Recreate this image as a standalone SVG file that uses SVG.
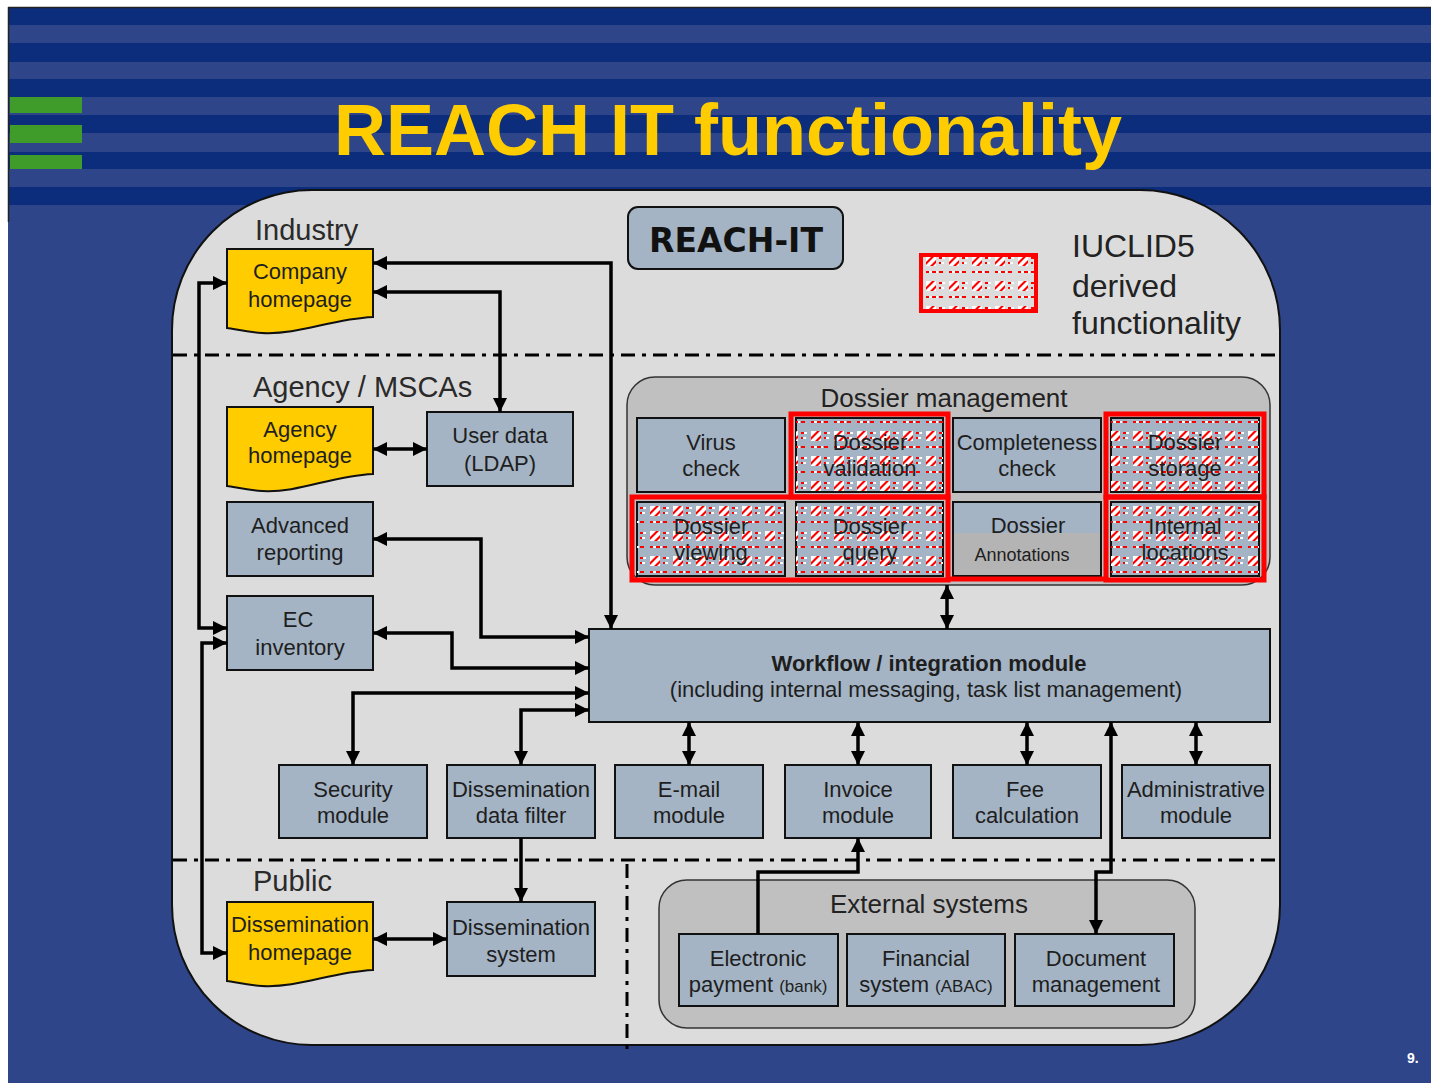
<svg xmlns="http://www.w3.org/2000/svg" width="1431" height="1083" viewBox="0 0 1431 1083">
<style>
text{font-family:"Liberation Sans",Arial,sans-serif;fill:#1e1e1e}
.lbl{font-size:22px;text-anchor:middle}
.sec{font-size:29px;fill:#2a2a2a}
.grp{font-size:26px;text-anchor:middle;fill:#222}
.box{fill:#a4b4c4;stroke:#111;stroke-width:2}
.doc{fill:#ffcc00;stroke:#111;stroke-width:2}
.red{fill:none;stroke:#ff0000;stroke-width:5}
.dd{stroke:#000;stroke-width:3;stroke-dasharray:14 7 4 7;fill:none}
.con path{fill:none;stroke:#000;stroke-width:3.5}
.both{marker-start:url(#ah);marker-end:url(#ah)}
.end{marker-end:url(#ah)}
</style>
<defs>
<marker id="ah" viewBox="0 0 14 14" markerWidth="14" markerHeight="14" refX="14" refY="7" orient="auto-start-reverse" markerUnits="userSpaceOnUse">
<path d="M0,0 L14,7 L0,14 Z" fill="#000"/>
</marker>
<pattern id="hatch" patternUnits="userSpaceOnUse" width="23" height="25" x="4" y="4">
<rect x="2" y="2" width="10" height="10" fill="#fff"/>
<polygon points="2,8 8,2 11,2 2,11" fill="#f00"/>
<polygon points="6,12 12,6 12,9 9,12" fill="#f00"/>
<path d="M15,4h3M15,9h2M2,18h3M8,18h4M15,18h4" stroke="#f00" stroke-width="2"/>
<path d="M18,4h3M17,9h3M5,18h3M12,18h2" stroke="#fff" stroke-width="2"/>
</pattern>
</defs>

<!-- slide background -->
<rect x="0" y="0" width="1431" height="1083" fill="#ffffff"/>
<rect x="8" y="7" width="1423" height="1076" fill="#2e4589"/>
<g fill="#0b2d7b">
<rect x="8" y="8" width="1423" height="17"/>
<rect x="8" y="43" width="1423" height="19"/>
<rect x="8" y="79" width="1423" height="18"/>
<rect x="8" y="115" width="1423" height="18"/>
<rect x="8" y="152" width="1423" height="17"/>
<rect x="8" y="187" width="1423" height="18"/>
</g>
<line x1="8" y1="7.5" x2="1431" y2="7.5" stroke="#222" stroke-width="1.5"/>
<line x1="8.5" y1="7" x2="8.5" y2="222" stroke="#222" stroke-width="1.5"/>
<g fill="#3f9b2a">
<rect x="10" y="97" width="72" height="16"/>
<rect x="10" y="125" width="72" height="18"/>
<rect x="10" y="155" width="72" height="14"/>
</g>
<text x="728" y="155" text-anchor="middle" style="font-size:72px;font-weight:bold;fill:#ffcc00">REACH IT functionality</text>
<text x="1407" y="1063" style="font-size:14px;font-weight:bold;fill:#fff">9.</text>

<!-- main panel -->
<path d="M312,190 H1140 A140,140 0 0 1 1280,330 V905 A140,140 0 0 1 1140,1045 H312 A140,140 0 0 1 172,905 V330 A140,140 0 0 1 312,190 Z" fill="#dcdcdc" stroke="#111" stroke-width="2"/>
<path class="dd" d="M173,355 H1279"/>
<path class="dd" d="M173,860 H1279"/>
<path class="dd" d="M627,864 V1050"/>
<text class="sec" x="255" y="240">Industry</text>
<text class="sec" x="253" y="397">Agency / MSCAs</text>
<text class="sec" x="253" y="891">Public</text>

<g id="reach-it">
<rect x="628" y="207" width="215" height="62" rx="10" class="box"/>
<text x="736" y="252" text-anchor="middle" style="font-family:'DejaVu Sans',Verdana,sans-serif;font-size:33px;font-weight:bold;fill:#111">REACH-IT</text>
</g>

<g id="legend">
<rect x="921" y="255" width="115" height="56" fill="#dcdcdc"/>
<rect x="921" y="255" width="115" height="56" fill="url(#hatch)"/>
<rect x="921" y="255" width="115" height="56" fill="none" stroke="#f00" stroke-width="4"/>
<text x="1072" y="257" style="font-size:32px;fill:#222">IUCLID5</text>
<text x="1072" y="297" style="font-size:32px;fill:#222">derived</text>
<text x="1072" y="334" style="font-size:32px;fill:#222">functionality</text>
</g>

<!-- dossier management -->
<g id="dossier-management">
<rect x="627" y="377" width="643" height="208" rx="28" fill="#c0c0c0" stroke="#333" stroke-width="1.5"/>
<text class="grp" x="944" y="407">Dossier management</text>
</g>
<g id="virus-check">
<rect x="637" y="418" width="148" height="74" class="box"/>
<text class="lbl" x="711" y="450">Virus</text><text class="lbl" x="711" y="476">check</text>
</g>
<g id="dossier-validation">
<rect x="796" y="418" width="147" height="74" class="box"/>
<rect x="796" y="418" width="147" height="74" fill="url(#hatch)"/>
<text class="lbl" x="870" y="450">Dossier</text><text class="lbl" x="870" y="476">validation</text>
</g>
<g id="completeness-check">
<rect x="953" y="418" width="148" height="74" class="box"/>
<text class="lbl" x="1027" y="450">Completeness</text><text class="lbl" x="1027" y="476">check</text>
</g>
<g id="dossier-storage">
<rect x="1111" y="418" width="148" height="74" class="box"/>
<rect x="1111" y="418" width="148" height="74" fill="url(#hatch)"/>
<text class="lbl" x="1185" y="450">Dossier</text><text class="lbl" x="1185" y="476">storage</text>
</g>
<g id="dossier-viewing">
<rect x="637" y="502" width="148" height="74" class="box"/>
<rect x="637" y="502" width="148" height="74" fill="url(#hatch)"/>
<text class="lbl" x="711" y="534">Dossier</text><text class="lbl" x="711" y="560">viewing</text>
</g>
<g id="dossier-query">
<rect x="796" y="502" width="147" height="74" class="box"/>
<rect x="796" y="502" width="147" height="74" fill="url(#hatch)"/>
<text class="lbl" x="870" y="534">Dossier</text><text class="lbl" x="870" y="560">query</text>
</g>
<g id="dossier-annotations">
<rect x="953" y="502" width="148" height="74" class="box"/>
<rect x="954" y="533" width="146" height="42" fill="#b4b4b4"/>
<text class="lbl" x="1028" y="533">Dossier</text>
<text x="1022" y="561" text-anchor="middle" style="font-size:18px">Annotations</text>
</g>
<g id="internal-locations">
<rect x="1111" y="502" width="148" height="74" class="box"/>
<rect x="1111" y="502" width="148" height="74" fill="url(#hatch)"/>
<text class="lbl" x="1185" y="534">Internal</text><text class="lbl" x="1185" y="560">locations</text>
</g>
<g id="iuclid-outline">
<rect x="791" y="414" width="157" height="83" class="red"/>
<rect x="1106" y="414" width="158" height="83" class="red"/>
<rect x="632" y="497" width="316" height="83" class="red"/>
<rect x="1106" y="497" width="158" height="83" class="red"/>
<line x1="948" y1="579" x2="1106" y2="579" stroke="#f00" stroke-width="5"/>
</g>

<!-- left side nodes -->
<g id="company-homepage">
<path class="doc" d="M227,249 H373 V317 C330,319 300,335 262,333 C247,332 235,329 227,328 Z"/>
<text class="lbl" x="300" y="279">Company</text><text class="lbl" x="300" y="307">homepage</text>
</g>
<g id="agency-homepage">
<path class="doc" d="M227,407 H373 V474 C330,476 300,493 262,491 C247,490 235,487 227,486 Z"/>
<text class="lbl" x="300" y="437">Agency</text><text class="lbl" x="300" y="463">homepage</text>
</g>
<g id="user-data">
<rect x="427" y="412" width="146" height="74" class="box"/>
<text class="lbl" x="500" y="443">User data</text><text class="lbl" x="500" y="471">(LDAP)</text>
</g>
<g id="advanced-reporting">
<rect x="227" y="502" width="146" height="74" class="box"/>
<text class="lbl" x="300" y="533">Advanced</text><text class="lbl" x="300" y="560">reporting</text>
</g>
<g id="ec-inventory">
<rect x="227" y="596" width="146" height="74" class="box"/>
<text class="lbl" x="298" y="627">EC</text><text class="lbl" x="300" y="655">inventory</text>
</g>
<g id="workflow">
<rect x="589" y="629" width="681" height="93" class="box"/>
<text x="929" y="671" text-anchor="middle" style="font-size:22px;font-weight:bold">Workflow / integration module</text>
<text class="lbl" x="926" y="697">(including internal messaging, task list management)</text>
</g>
<g id="security-module">
<rect x="279" y="765" width="148" height="73" class="box"/>
<text class="lbl" x="353" y="797">Security</text><text class="lbl" x="353" y="823">module</text>
</g>
<g id="dissemination-data-filter">
<rect x="447" y="765" width="148" height="73" class="box"/>
<text class="lbl" x="521" y="797">Dissemination</text><text class="lbl" x="521" y="823">data filter</text>
</g>
<g id="email-module">
<rect x="615" y="765" width="148" height="73" class="box"/>
<text class="lbl" x="689" y="797">E-mail</text><text class="lbl" x="689" y="823">module</text>
</g>
<g id="invoice-module">
<rect x="785" y="765" width="146" height="73" class="box"/>
<text class="lbl" x="858" y="797">Invoice</text><text class="lbl" x="858" y="823">module</text>
</g>
<g id="fee-calculation">
<rect x="953" y="765" width="148" height="73" class="box"/>
<text class="lbl" x="1025" y="797">Fee</text><text class="lbl" x="1027" y="823">calculation</text>
</g>
<g id="administrative-module">
<rect x="1122" y="765" width="148" height="73" class="box"/>
<text class="lbl" x="1196" y="797">Administrative</text><text class="lbl" x="1196" y="823">module</text>
</g>
<g id="dissemination-homepage">
<path class="doc" d="M227,902 H373 V970 C330,972 300,988 262,986 C247,985 235,982 227,981 Z"/>
<text class="lbl" x="300" y="932">Dissemination</text><text class="lbl" x="300" y="960">homepage</text>
</g>
<g id="dissemination-system">
<rect x="447" y="902" width="148" height="74" class="box"/>
<text class="lbl" x="521" y="935">Dissemination</text><text class="lbl" x="521" y="962">system</text>
</g>

<!-- external systems -->
<g id="external-systems">
<rect x="659" y="880" width="536" height="148" rx="28" fill="#c0c0c0" stroke="#333" stroke-width="1.5"/>
<text class="grp" x="929" y="913">External systems</text>
</g>
<g id="electronic-payment">
<rect x="679" y="934" width="159" height="72" class="box"/>
<text class="lbl" x="758" y="966">Electronic</text>
<text x="758" y="992" text-anchor="middle" style="font-size:22px">payment <tspan style="font-size:17px">(bank)</tspan></text>
</g>
<g id="financial-system">
<rect x="847" y="934" width="158" height="72" class="box"/>
<text class="lbl" x="926" y="966">Financial</text>
<text x="926" y="992" text-anchor="middle" style="font-size:22px">system <tspan style="font-size:17px">(ABAC)</tspan></text>
</g>
<g id="document-management">
<rect x="1015" y="934" width="159" height="72" class="box"/>
<text class="lbl" x="1096" y="966">Document</text><text class="lbl" x="1096" y="992">management</text>
</g>

<!-- connectors -->
<g id="connectors" class="con">
<path class="both" d="M611,629 V263 H373"/>
<path class="both" d="M500,412 V292 H373"/>
<path class="both" d="M373,449 H427"/>
<path class="both" d="M373,539 H481 V637 H589"/>
<path class="both" d="M373,633 H452 V668 H589"/>
<path class="both" d="M353,765 V693 H589"/>
<path class="both" d="M521,765 V710 H589"/>
<path class="both" d="M227,283 H199 V628 H227"/>
<path class="both" d="M227,643 H202 V953 H227"/>
<path class="both" d="M947,585 V629"/>
<path class="both" d="M689,722 V765"/>
<path class="both" d="M858,722 V765"/>
<path class="both" d="M1027,722 V765"/>
<path class="both" d="M1196,722 V765"/>
<path class="both" d="M1111,722 V872 H1096 V934"/>
<path class="end" d="M758,934 V872 H858 V838"/>
<path class="end" d="M521,838 V902"/>
<path class="both" d="M373,939 H447"/>
</g>
</svg>
